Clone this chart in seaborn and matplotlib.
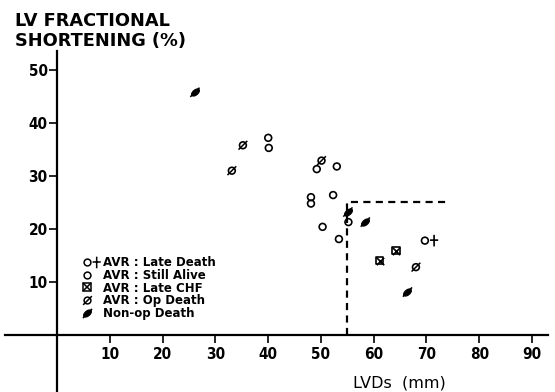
import numpy as np
import pandas as pd
import matplotlib
matplotlib.use("Agg")
import matplotlib.pyplot as plt
import seaborn as sns
from matplotlib.path import Path
from matplotlib.transforms import Affine2D
from matplotlib.lines import Line2D
from matplotlib.legend_handler import HandlerTuple

# ---- data (LVDs mm, LV fractional shortening %) ----
late_death_x = [69.7]
late_death_y = [17.8]

alive_x = [40.0, 40.1, 49.2, 53.0, 48.1, 48.1, 52.3, 50.3, 53.4, 55.2]
alive_y = [37.2, 35.3, 31.3, 31.8, 26.0, 24.8, 26.4, 20.4, 18.1, 21.3]

chf_x = [64.2, 61.1]
chf_y = [15.9, 14.0]

opdeath_x = [35.2, 33.1, 50.1, 68.0]
opdeath_y = [35.8, 31.0, 32.9, 12.8]

nonop_x = [26.1, 55.1, 58.4, 66.4]
nonop_y = [45.8, 23.2, 21.3, 8.1]

threshold_x = [55, 55, 74]
threshold_y = [0, 25, 25]

xticks = [10, 20, 30, 40, 50, 60, 70, 80, 90]
yticks = [10, 20, 30, 40, 50]

legend_labels = ["AVR : Late Death", "AVR : Still Alive", "AVR : Late CHF",
                 "AVR : Op Death", "Non-op Death"]

# ---- style ----
sns.set_theme(style="white")
plt.rcParams["font.family"] = ["DejaVu Sans", "Liberation Sans"]

# custom markers
circle = Path.unit_circle()
slash = Path([(-1.35, -1.35), (1.35, 1.35)], [Path.MOVETO, Path.LINETO])
ellipse = Affine2D().scale(1.0, 0.55).rotate_deg(40).transform_path(Path.unit_circle())
vbar = Path([(2.7, -1.7), (2.7, 1.7)], [Path.MOVETO, Path.LINETO])
hbar = Path([(1.5, 0.15), (3.9, 0.15)], [Path.MOVETO, Path.LINETO])
circ_cross = Path.make_compound_path(circle, vbar, hbar)

fig = plt.figure(figsize=(5.55, 3.92), dpi=100)
ax = fig.add_axes([4.5 / 555, 0.0036, (547.8 - 4.5) / 555, 0.8687 - 0.0036])
ax.set_xlim(-10, 93)
ax.set_ylim(-10.5, 53.5)

k = "black"
s_circ = 24
# Still alive
sns.scatterplot(x=alive_x, y=alive_y, ax=ax, marker="o", s=s_circ,
                facecolor="none", edgecolor=k, linewidth=1.2)
# Late death (circle + cross)
sns.scatterplot(x=late_death_x, y=late_death_y, ax=ax, marker=circ_cross, s=24 * 3.9**2,
                facecolor="none", edgecolor=k, linewidth=1.2)
# Late CHF
sns.scatterplot(x=chf_x, y=chf_y, ax=ax, marker="s", s=28,
                facecolor="none", edgecolor=k, linewidth=1.2)
sns.scatterplot(x=chf_x, y=chf_y, ax=ax, marker="x", s=28,
                color=k, linewidth=1.2)
# Op death
sns.scatterplot(x=opdeath_x, y=opdeath_y, ax=ax, marker="o", s=s_circ,
                facecolor="none", edgecolor=k, linewidth=1.2)
sns.scatterplot(x=opdeath_x, y=opdeath_y, ax=ax, marker=slash, s=40,
                facecolor="none", edgecolor=k, linewidth=1.1)
# Non-op death
sns.scatterplot(x=nonop_x, y=nonop_y, ax=ax, marker=ellipse, s=34,
                color=k, edgecolor=k, linewidth=0.8)
sns.scatterplot(x=nonop_x, y=nonop_y, ax=ax, marker=slash, s=44,
                facecolor="none", edgecolor=k, linewidth=1.1)

# threshold dashed line
sns.lineplot(x=threshold_x, y=threshold_y, ax=ax, sort=False, estimator=None,
             color=k, linewidth=1.6, linestyle=(0, (3.2, 2.4)))

# axes through origin
for side in ["top", "right"]:
    ax.spines[side].set_visible(False)
ax.spines["left"].set_position(("data", 0))
ax.spines["bottom"].set_position(("data", 0))
for side in ["left", "bottom"]:
    ax.spines[side].set_color(k)
    ax.spines[side].set_linewidth(1.6)
ax.set_xticks(xticks)
ax.set_yticks(yticks)
ax.set_xticklabels([str(v) for v in xticks])
ax.set_yticklabels([str(v) for v in yticks])
ax.tick_params(axis="both", which="both", direction="out", length=6, width=1.2,
               color=k, labelsize=11, labelcolor=k)
ax.tick_params(axis="x", bottom=True, pad=3)
ax.tick_params(axis="y", left=True, pad=1)
for lab in ax.get_xticklabels() + ax.get_yticklabels():
    lab.set_fontweight("bold")
    lab.set_fontstretch("condensed")
ax.grid(False)
ax.set_xlabel("")
ax.set_ylabel("")

# titles
fig.text(15 / 555, 1 - 12.5 / 392, "LV FRACTIONAL\nSHORTENING (%)", ha="left", va="top",
         fontsize=12.8, fontweight="bold", linespacing=1.13, color=k)
fig.text(399 / 555, 1 - 388 / 392, "LVDs  (mm)", ha="center", va="baseline",
         fontsize=11.5, color=k)

# legend
lw = 1.1
h_late = Line2D([], [], linestyle="none", marker=circ_cross, markersize=4.9 * 3.9,
                markerfacecolor="none", markeredgecolor=k, markeredgewidth=lw)
h_alive = Line2D([], [], linestyle="none", marker="o", markersize=4.9,
                 markerfacecolor="none", markeredgecolor=k, markeredgewidth=lw)
h_chf = (Line2D([], [], linestyle="none", marker="s", markersize=5.2,
                markerfacecolor="none", markeredgecolor=k, markeredgewidth=lw),
         Line2D([], [], linestyle="none", marker="x", markersize=5.2,
                markeredgecolor=k, markeredgewidth=lw))
h_op = (Line2D([], [], linestyle="none", marker="o", markersize=4.9,
               markerfacecolor="none", markeredgecolor=k, markeredgewidth=lw),
        Line2D([], [], linestyle="none", marker=slash, markersize=6.3,
               markeredgecolor=k, markeredgewidth=lw))
h_non = (Line2D([], [], linestyle="none", marker=ellipse, markersize=5.8,
                markerfacecolor=k, markeredgecolor=k, markeredgewidth=0.8),
         Line2D([], [], linestyle="none", marker=slash, markersize=6.6,
                markeredgecolor=k, markeredgewidth=lw))
leg = ax.legend([h_late, h_alive, h_chf, h_op, h_non], legend_labels,
                handler_map={tuple: HandlerTuple(ndivide=1, pad=0)},
                loc="upper left", bbox_to_anchor=(79 / 555, 1 - 256 / 392),
                bbox_transform=fig.transFigure, frameon=False,
                fontsize=8.5, handlelength=1.3, handletextpad=0.7,
                labelspacing=-0.02, borderpad=0, borderaxespad=0)
for t in leg.get_texts():
    t.set_color(k)
    t.set_fontweight("bold")

fig.savefig("out.png", dpi=100)
